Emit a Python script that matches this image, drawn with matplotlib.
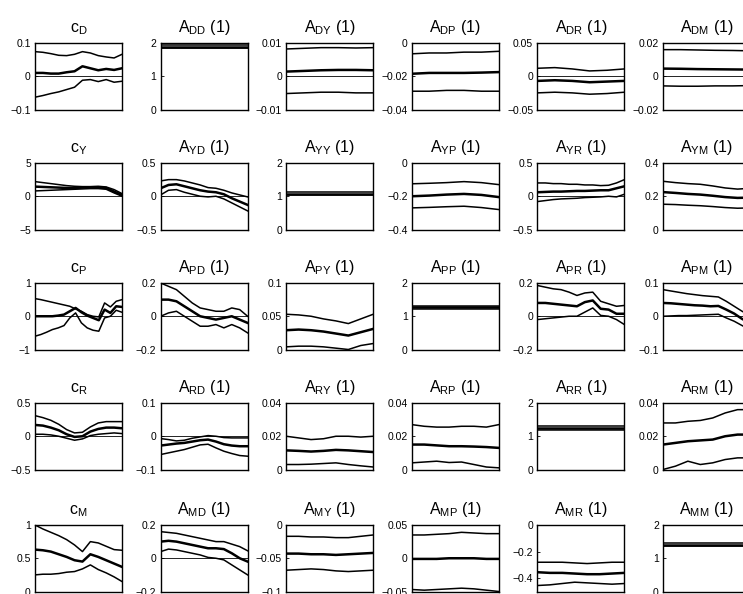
import numpy as np
import matplotlib
matplotlib.use('Agg')
import matplotlib.pyplot as plt
from matplotlib.ticker import FuncFormatter

plt.rcParams['font.family'] = ['Liberation Sans', 'DejaVu Sans']
plt.rcParams['mathtext.default'] = 'regular'

# each panel: [lower band, median, upper band] over time
c_D = [[-0.063, -0.058, -0.052, -0.047, -0.040, -0.033, -0.012, -0.010, -0.016, -0.010, -0.018, -0.015],
       [0.010, 0.010, 0.008, 0.008, 0.012, 0.015, 0.030, 0.024, 0.018, 0.022, 0.019, 0.024],
       [0.074, 0.072, 0.068, 0.063, 0.062, 0.066, 0.074, 0.070, 0.062, 0.058, 0.055, 0.066]]
A_DD = [[1.86] * 6, [1.88] * 6, [1.93] * 6]
A_DY = [[-0.0052, -0.0050, -0.0048, -0.0048, -0.0050, -0.0050],
        [0.0014, 0.0016, 0.0018, 0.0019, 0.0019, 0.0018],
        [0.0082, 0.0084, 0.0086, 0.0086, 0.0085, 0.0086]]
A_DP = [[-0.029, -0.029, -0.0285, -0.0285, -0.029, -0.029],
        [-0.0185, -0.018, -0.018, -0.018, -0.0178, -0.0175],
        [-0.0065, -0.006, -0.006, -0.0055, -0.0055, -0.005]]
A_DR = [[-0.025, -0.024, -0.025, -0.027, -0.026, -0.024],
        [-0.007, -0.006, -0.007, -0.009, -0.008, -0.007],
        [0.012, 0.013, 0.011, 0.008, 0.009, 0.011]]
A_DM = [[-0.0058, -0.0060, -0.0060, -0.0058, -0.0058, -0.0056],
        [0.0046, 0.0045, 0.0043, 0.0042, 0.0041, 0.0040],
        [0.0160, 0.0160, 0.0158, 0.0156, 0.0155, 0.0153]]

c_Y = [[0.8, 0.85, 0.9, 0.95, 1.0, 1.05, 1.1, 1.15, 1.15, 1.05, 0.5, 0.0],
       [1.45, 1.4, 1.35, 1.3, 1.25, 1.25, 1.3, 1.35, 1.3, 1.25, 0.7, 0.2],
       [2.2, 2.05, 1.9, 1.75, 1.6, 1.5, 1.45, 1.45, 1.5, 1.4, 1.0, 0.4]]
A_YD = [[0.02, 0.09, 0.10, 0.06, 0.03, 0.00, -0.01, 0.00, -0.04, -0.10, -0.16, -0.22],
        [0.12, 0.17, 0.18, 0.15, 0.12, 0.09, 0.07, 0.06, 0.03, -0.03, -0.08, -0.13],
        [0.23, 0.25, 0.25, 0.23, 0.20, 0.17, 0.13, 0.12, 0.09, 0.05, 0.02, -0.01]]
A_YY = [[1.04] * 6, [1.08] * 6, [1.12] * 6]
A_YP = [[-0.270, -0.267, -0.263, -0.260, -0.268, -0.280],
        [-0.200, -0.196, -0.190, -0.186, -0.192, -0.205],
        [-0.125, -0.122, -0.118, -0.112, -0.118, -0.130]]
A_YR = [[-0.08, -0.065, -0.05, -0.04, -0.035, -0.03, -0.02, -0.015, -0.01, 0.0, -0.01, 0.03],
        [0.06, 0.065, 0.07, 0.07, 0.075, 0.08, 0.08, 0.085, 0.09, 0.09, 0.12, 0.15],
        [0.20, 0.20, 0.19, 0.19, 0.18, 0.18, 0.17, 0.17, 0.16, 0.165, 0.20, 0.25]]
A_YM = [[0.152, 0.150, 0.146, 0.143, 0.138, 0.132, 0.128, 0.130],
        [0.225, 0.220, 0.214, 0.210, 0.203, 0.195, 0.190, 0.192],
        [0.290, 0.282, 0.276, 0.272, 0.262, 0.250, 0.243, 0.248]]

c_P = [[-0.60, -0.55, -0.48, -0.40, -0.35, -0.28, -0.05, 0.10, -0.20, -0.35, -0.42, -0.45, -0.05, 0.00, 0.18, 0.12],
       [0.0, 0.0, 0.0, 0.0, 0.02, 0.05, 0.15, 0.25, 0.12, 0.02, -0.05, -0.12, 0.20, 0.10, 0.30, 0.28],
       [0.53, 0.50, 0.46, 0.42, 0.38, 0.34, 0.30, 0.22, 0.15, 0.05, 0.0, -0.02, 0.40, 0.28, 0.45, 0.50]]
A_PD = [[0.00, 0.02, 0.03, 0.00, -0.03, -0.06, -0.06, -0.05, -0.07, -0.05, -0.07, -0.10],
        [0.10, 0.10, 0.09, 0.06, 0.03, 0.00, -0.01, -0.02, -0.01, 0.00, -0.02, -0.04],
        [0.20, 0.18, 0.16, 0.12, 0.08, 0.05, 0.04, 0.03, 0.03, 0.05, 0.04, 0.00]]
A_PY = [[0.004, 0.005, 0.005, 0.004, 0.002, 0.000, 0.006, 0.009],
        [0.029, 0.030, 0.029, 0.027, 0.024, 0.021, 0.026, 0.031],
        [0.053, 0.052, 0.050, 0.046, 0.043, 0.039, 0.046, 0.053]]
A_PP = [[1.22] * 6, [1.27] * 6, [1.32] * 6]
A_PR = [[-0.02, -0.015, -0.01, -0.005, 0.0, 0.0, 0.025, 0.05, 0.005, 0.0, -0.02, -0.05],
        [0.08, 0.08, 0.075, 0.07, 0.065, 0.06, 0.085, 0.095, 0.045, 0.04, 0.015, 0.015],
        [0.185, 0.175, 0.165, 0.16, 0.145, 0.125, 0.14, 0.145, 0.09, 0.075, 0.06, 0.065]]
A_PM = [[0.000, 0.001, 0.002, 0.002, 0.003, 0.004, 0.005, 0.006, -0.005, -0.015, -0.028, -0.040],
        [0.040, 0.039, 0.037, 0.035, 0.033, 0.032, 0.030, 0.031, 0.020, 0.008, -0.008, -0.020],
        [0.080, 0.076, 0.072, 0.068, 0.065, 0.062, 0.060, 0.058, 0.045, 0.030, 0.015, 0.002]]

c_R = [[0.03, 0.03, 0.02, 0.00, -0.03, -0.06, -0.04, 0.01, 0.03, 0.04, 0.05, 0.04],
       [0.17, 0.16, 0.13, 0.09, 0.03, -0.01, 0.00, 0.07, 0.11, 0.13, 0.13, 0.12],
       [0.31, 0.28, 0.24, 0.18, 0.10, 0.05, 0.06, 0.14, 0.20, 0.22, 0.22, 0.22]]
A_RD = [[-0.055, -0.050, -0.045, -0.040, -0.033, -0.026, -0.024, -0.035, -0.045, -0.052, -0.058, -0.060],
        [-0.028, -0.025, -0.022, -0.020, -0.016, -0.012, -0.010, -0.016, -0.024, -0.028, -0.030, -0.030],
        [-0.007, -0.010, -0.014, -0.012, -0.006, -0.002, 0.002, 0.0, -0.004, -0.005, -0.005, -0.005]]
A_RY = [[0.003, 0.003, 0.0032, 0.0036, 0.0040, 0.0030, 0.0022, 0.0015],
        [0.0115, 0.0112, 0.0108, 0.0112, 0.0118, 0.0115, 0.011, 0.0105],
        [0.020, 0.019, 0.018, 0.0185, 0.020, 0.020, 0.0195, 0.020]]
A_RP = [[0.004, 0.0045, 0.005, 0.0042, 0.0045, 0.003, 0.0015, 0.001],
        [0.015, 0.015, 0.0145, 0.014, 0.014, 0.0138, 0.0135, 0.013],
        [0.027, 0.026, 0.0255, 0.0255, 0.026, 0.026, 0.0255, 0.027]]
A_RR = [[1.20] * 6, [1.25] * 6, [1.30] * 6]
A_RM = [[0.000, 0.002, 0.005, 0.003, 0.004, 0.006, 0.007, 0.007],
        [0.015, 0.016, 0.017, 0.0175, 0.018, 0.020, 0.021, 0.021],
        [0.028, 0.028, 0.029, 0.0295, 0.031, 0.034, 0.036, 0.036]]

c_M = [[0.25, 0.26, 0.26, 0.27, 0.29, 0.30, 0.34, 0.40, 0.33, 0.28, 0.22, 0.15],
       [0.63, 0.62, 0.60, 0.56, 0.52, 0.47, 0.45, 0.56, 0.52, 0.47, 0.42, 0.37],
       [1.0, 0.94, 0.89, 0.84, 0.78, 0.70, 0.60, 0.75, 0.73, 0.68, 0.63, 0.62]]
A_MD = [[0.04, 0.055, 0.05, 0.04, 0.03, 0.02, 0.005, 0.00, -0.01, -0.04, -0.07, -0.10],
        [0.10, 0.105, 0.10, 0.09, 0.08, 0.07, 0.06, 0.06, 0.055, 0.03, 0.00, -0.02],
        [0.16, 0.155, 0.15, 0.14, 0.13, 0.12, 0.11, 0.10, 0.10, 0.085, 0.07, 0.045]]
A_MY = [[-0.068, -0.067, -0.066, -0.067, -0.069, -0.070, -0.069, -0.068],
        [-0.043, -0.043, -0.044, -0.044, -0.045, -0.044, -0.043, -0.042],
        [-0.017, -0.017, -0.018, -0.018, -0.019, -0.019, -0.017, -0.015]]
A_MP = [[-0.047, -0.048, -0.047, -0.046, -0.045, -0.046, -0.048, -0.050],
        [-0.001, -0.001, -0.001, 0.000, 0.000, 0.000, -0.001, -0.001],
        [0.035, 0.035, 0.036, 0.037, 0.039, 0.038, 0.037, 0.037]]
A_MR = [[-0.455, -0.45, -0.44, -0.43, -0.435, -0.44, -0.445, -0.44],
        [-0.355, -0.36, -0.36, -0.365, -0.37, -0.37, -0.365, -0.36],
        [-0.28, -0.28, -0.28, -0.285, -0.29, -0.285, -0.28, -0.28]]
A_MM = [[1.36] * 6, [1.40] * 6, [1.45] * 6]

variables = ['D', 'Y', 'P', 'R', 'M']
panels = [[c_D, A_DD, A_DY, A_DP, A_DR, A_DM],
          [c_Y, A_YD, A_YY, A_YP, A_YR, A_YM],
          [c_P, A_PD, A_PY, A_PP, A_PR, A_PM],
          [c_R, A_RD, A_RY, A_RP, A_RR, A_RM],
          [c_M, A_MD, A_MY, A_MP, A_MR, A_MM]]
ylims = [[(-0.1, 0.1), (0, 2), (-0.01, 0.01), (-0.04, 0), (-0.05, 0.05), (-0.02, 0.02)],
         [(-5, 5), (-0.5, 0.5), (0, 2), (-0.4, 0), (-0.5, 0.5), (0, 0.4)],
         [(-1, 1), (-0.2, 0.2), (0, 0.1), (0, 2), (-0.2, 0.2), (-0.1, 0.1)],
         [(-0.5, 0.5), (-0.1, 0.1), (0, 0.04), (0, 0.04), (0, 2), (0, 0.04)],
         [(0, 1), (-0.2, 0.2), (-0.1, 0), (-0.05, 0.05), (-0.5, 0), (0, 2)]]

fmt = FuncFormatter(lambda v, p: ('%g' % round(v, 6)).replace('-', '\u2212'))

W, H = 743, 594
fig = plt.figure(figsize=(W / 100, H / 100), dpi=100)
row_tops = [43, 163, 283, 403, 525]
ax_w, ax_h = 87, 66.5

for i in range(5):
    for j in range(6):
        left = 35 + 125.6 * j
        ax = fig.add_axes([left / W, 1 - (row_tops[i] + ax_h) / H, ax_w / W, ax_h / H])
        lo, med, hi = panels[i][j]
        ax.axhline(0, color='black', lw=0.6)
        ax.plot(np.linspace(0, 1, len(lo)), lo, color='black', lw=1.1)
        ax.plot(np.linspace(0, 1, len(hi)), hi, color='black', lw=1.1)
        ax.plot(np.linspace(0, 1, len(med)), med, color='black', lw=1.8)
        y0, y1 = ylims[i][j]
        ax.set_xlim(0, 1)
        ax.set_ylim(y0, y1)
        if (i, j) == (4, 4):
            ax.set_yticks([-0.4, -0.2, 0])
        else:
            ax.set_yticks([y0, (y0 + y1) / 2, y1])
        ax.yaxis.set_major_formatter(fmt)
        ax.set_xticks([])
        ax.tick_params(axis='y', direction='in', length=2, width=0.6, pad=3, labelsize=7.5)
        for s in ax.spines.values():
            s.set_linewidth(1.0)
        v = variables[i]
        if j == 0:
            title = 'c$_{%s}$' % v
        else:
            title = 'A$_{%s%s}$ (1)' % (v, variables[j - 1])
        ax.set_title(title, fontsize=11.5, pad=8)

fig.savefig('out.png', dpi=100)
